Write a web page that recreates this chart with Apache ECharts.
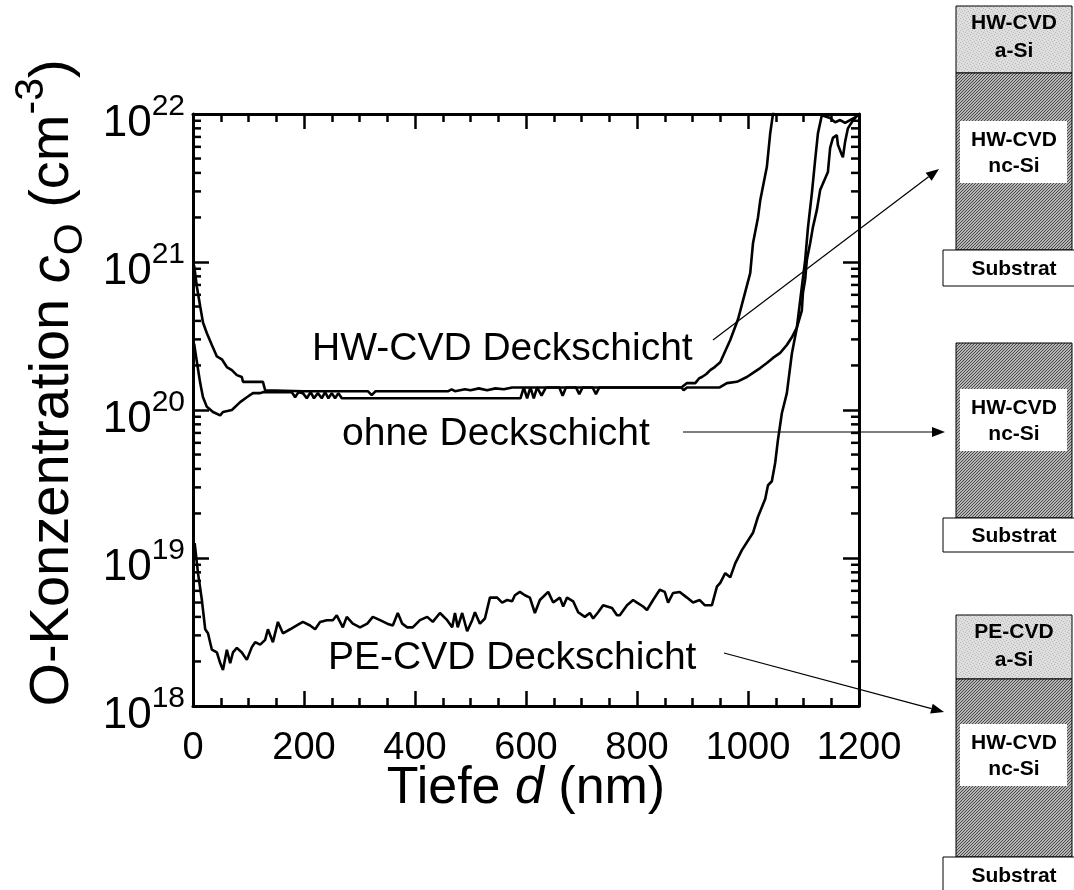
<!DOCTYPE html>
<html>
<head>
<meta charset="utf-8">
<script src="https://cdn.jsdelivr.net/npm/echarts@6/dist/echarts.min.js"></script>
<style>
  html, body { margin: 0; padding: 0; background: #ffffff; }
  #chart { width: 1074px; height: 890px; }
</style>
</head>
<body>
<div id="chart"></div>
<script>
// SIMS depth profiles of oxygen in HW-CVD nc-Si layers: [depth in nm, c_O in cm^-3]
const hwCvdCap = [
  [2,9.5e20],[7,6.8e20],[13,5.0e20],[18,3.9e20],[25,3.3e20],[34,2.75e20],[43,2.3e20],[52,2.2e20],
  [61,1.95e20],[70,1.86e20],[79,1.72e20],[88,1.67e20],[90,1.55e20],[126,1.55e20],[130,1.36e20],
  [200,1.34e20],[315,1.34e20],[322,1.26e20],[329,1.34e20],[460,1.34e20],[466,1.38e20],[472,1.34e20],
  [490,1.38e20],[500,1.36e20],[515,1.4e20],[530,1.36e20],[545,1.4e20],[560,1.38e20],[575,1.42e20],
  [590,1.42e20],[880,1.42e20],[890,1.52e20],[905,1.52e20],[912,1.64e20],[917,1.67e20],[925,1.75e20],
  [932,1.86e20],[940,1.95e20],[950,2.1e20],[968,2.97e20],[982,4.1e20],[991,5.5e20],[1004,8.4e20],
  [1009,1.34e21],[1018,2.0e21],[1022,2.6e21],[1034,4.4e21],[1040,7.4e21],[1045,1.0e22],[1050,1.3e22]
];

const noCap = [
  [2,2.8e20],[8,2.0e20],[13,1.52e20],[18,1.22e20],[25,1.05e20],[36,9.7e19],[49,9.2e19],[54,9.7e19],
  [70,1.0e20],[85,1.13e20],[97,1.22e20],[108,1.3e20],[121,1.3e20],[126,1.32e20],[178,1.32e20],
  [184,1.22e20],[190,1.32e20],[198,1.3e20],[205,1.2e20],[212,1.32e20],[218,1.2e20],[225,1.3e20],
  [232,1.2e20],[238,1.32e20],[244,1.2e20],[250,1.3e20],[256,1.2e20],[262,1.3e20],[268,1.2e20],
  [590,1.2e20],[596,1.42e20],[602,1.2e20],[608,1.42e20],[614,1.2e20],[620,1.42e20],[628,1.25e20],
  [636,1.42e20],[660,1.42e20],[666,1.25e20],[672,1.42e20],[690,1.42e20],[696,1.28e20],[702,1.42e20],
  [720,1.42e20],[726,1.28e20],[732,1.42e20],[880,1.42e20],[884,1.36e20],[890,1.42e20],[949,1.42e20],
  [962,1.52e20],[980,1.55e20],[998,1.67e20],[1009,1.78e20],[1022,1.92e20],[1034,2.08e20],[1045,2.25e20],
  [1058,2.43e20],[1070,2.75e20],[1079,3.1e20],[1088,3.6e20],[1097,4.7e20],[1099,6.2e20],[1103,7.6e20],
  [1106,1.03e21],[1112,1.34e21],[1117,1.72e21],[1124,2.24e21],[1130,3.06e21],[1144,4.06e21],
  [1148,5.9e21],[1153,6.9e21],[1160,7.2e21],[1162,6.2e21],[1169,5.3e21],[1171,5.1e21],[1175,6.5e21],
  [1180,8.0e21],[1187,8.8e21],[1193,9.4e21],[1199,1.0e22]
];

const peCvdCap = [
  [3,1.26e19],[9,7.9e18],[16,5.2e18],[22,3.3e18],[27,3.1e18],[34,2.4e18],[43,2.3e18],[49,1.95e18],
  [54,1.75e18],[61,2.4e18],[67,1.95e18],[72,2.3e18],[79,2.47e18],[88,2.3e18],[97,2.05e18],[106,2.5e18],
  [112,2.7e18],[121,2.6e18],[130,2.8e18],[135,3.3e18],[144,2.7e18],[153,3.7e18],[162,3.1e18],
  [175,3.3e18],[187,3.5e18],[198,3.7e18],[211,3.5e18],[220,3.3e18],[229,3.7e18],[241,3.8e18],
  [252,3.8e18],[259,4.1e18],[270,3.4e18],[277,4.0e18],[288,3.6e18],[301,3.4e18],[314,3.6e18],
  [324,4.0e18],[337,3.8e18],[350,3.6e18],[360,3.5e18],[369,4.25e18],[377,3.6e18],[386,3.4e18],
  [396,3.4e18],[409,3.8e18],[422,4.0e18],[432,3.7e18],[445,4.25e18],[458,3.8e18],[467,3.4e18],
  [472,4.25e18],[477,3.4e18],[485,4.25e18],[494,3.2e18],[503,3.8e18],[508,4.3e18],[517,3.6e18],
  [526,3.9e18],[535,5.4e18],[548,5.4e18],[557,5.0e18],[566,5.2e18],[575,5.1e18],[580,5.6e18],
  [589,5.9e18],[598,5.6e18],[607,5.4e18],[616,4.25e18],[625,5.2e18],[640,5.9e18],[649,5.0e18],
  [661,5.4e18],[667,4.7e18],[674,5.4e18],[685,5.1e18],[694,4.3e18],[706,4.0e18],[715,4.25e18],
  [721,3.9e18],[730,4.3e18],[739,4.8e18],[755,4.6e18],[764,4.1e18],[769,4.1e18],[782,4.8e18],
  [793,5.2e18],[800,5.0e18],[811,4.7e18],[818,4.45e18],[829,5.2e18],[841,6.1e18],[850,5.9e18],
  [856,5.0e18],[865,5.8e18],[877,5.9e18],[890,5.4e18],[901,5.0e18],[913,5.2e18],[922,4.8e18],
  [935,4.8e18],[944,6.4e18],[950,6.8e18],[959,7.9e18],[968,7.4e18],[977,9.2e18],[989,1.13e19],
  [1009,1.48e19],[1018,1.9e19],[1031,2.5e19],[1036,3.1e19],[1043,3.3e19],[1049,4.4e19],[1054,6.3e19],
  [1061,9.5e19],[1070,1.3e20],[1079,2.4e20],[1088,3.6e20],[1097,6.8e20],[1103,1.03e21],[1108,1.7e21],
  [1115,2.9e21],[1121,4.9e21],[1126,7.4e21],[1133,9.8e21],[1148,9.4e21],[1157,8.8e21],[1166,9.1e21],
  [1175,8.7e21],[1184,9.1e21],[1193,9.5e21],[1199,9.9e21]
];

// axis ranges and tick marks
const depthRange = [0, 1200];
const depthStep = 200;
const concRange = [1e18, 1e22];
const decadeExponents = [18, 19, 20, 21];
const minorMantissas = [2, 3, 4, 5, 6, 7, 8, 9];

// in-plot labels for the three profiles
const curveLabels = ['HW-CVD Deckschicht', 'ohne Deckschicht', 'PE-CVD Deckschicht'];

const FONT = '"Liberation Sans", Arial, Helvetica, sans-serif';
const INK = '#000000';

const minorTickValues = [];
decadeExponents.forEach(e => minorMantissas.forEach(m => minorTickValues.push([0, m * Math.pow(10, e)])));

function hatchCanvas() {
  const c = document.createElement('canvas');
  c.width = 3; c.height = 3;
  const g = c.getContext('2d');
  const img = g.createImageData(3, 3);
  for (let y = 0; y < 3; y++) for (let x = 0; x < 3; x++) {
    const dark = (x + y) % 3 === 0;
    const v = dark ? 0x48 : 0xb6;
    const i = (y * 3 + x) * 4;
    img.data[i] = v; img.data[i + 1] = v; img.data[i + 2] = v; img.data[i + 3] = 255;
  }
  g.putImageData(img, 0, 0);
  return c;
}

function stippleCanvas() {
  const c = document.createElement('canvas');
  c.width = 6; c.height = 6;
  const g = c.getContext('2d');
  g.fillStyle = '#dedede';
  g.fillRect(0, 0, 6, 6);
  g.fillStyle = '#b9b9b9';
  [[0, 0], [3, 1], [1, 3], [4, 4], [5, 2], [2, 5]].forEach(p => g.fillRect(p[0], p[1], 1, 1));
  return c;
}

const hatchFill = { image: hatchCanvas(), repeat: 'repeat' };
const stippleFill = { image: stippleCanvas(), repeat: 'repeat' };

function arrow(x1, y1, x2, y2) {
  const dx = x2 - x1, dy = y2 - y1;
  const len = Math.hypot(dx, dy);
  const ux = dx / len, uy = dy / len;
  const hl = 13, hw = 5;
  const bx = x2 - ux * hl, by = y2 - uy * hl;
  return [
    { type: 'line', shape: { x1: x1, y1: y1, x2: bx, y2: by }, style: { stroke: INK, lineWidth: 1.2 } },
    { type: 'polygon', shape: { points: [[x2, y2], [bx - uy * hw, by + ux * hw], [bx + uy * hw, by - ux * hw]] },
      style: { fill: INK } }
  ];
}

function label(text, x, y, size, bold) {
  return {
    type: 'text', x: x, y: y,
    style: { text: text, fontFamily: FONT, fontSize: size, fontWeight: bold ? 'bold' : 'normal',
      fill: INK, align: bold ? 'center' : 'left', verticalAlign: 'middle' }
  };
}

function box(x, y, w, h, fill) {
  return { type: 'rect', shape: { x: x, y: y, width: w, height: h },
    style: { fill: fill, stroke: INK, lineWidth: 1 } };
}

const stackX = 956, stackW = 116, subX = 943, subW = 140, cx = 1014;

function layerStack(capTop, capBottom, capName, hatchBottom, whiteTop, subBottom) {
  const els = [];
  if (capName) {
    els.push(box(stackX, capTop, stackW, capBottom - capTop, stippleFill));
  }
  els.push(box(stackX, capBottom, stackW, hatchBottom - capBottom, hatchFill));
  els.push({ type: 'rect', shape: { x: 960, y: whiteTop, width: 107, height: 62 }, style: { fill: '#ffffff' } });
  els.push(label('HW-CVD', cx, whiteTop + 19, 21, true));
  els.push(label('nc-Si', cx, whiteTop + 45, 21, true));
  els.push(box(subX, hatchBottom, subW, subBottom - hatchBottom, '#ffffff'));
  els.push(label('Substrat', cx, (hatchBottom + subBottom) / 2 + 1, 21, true));
  if (capName) {
    els.push(label(capName, cx, capTop + 17, 21, true));
    els.push(label('a-Si', cx, capTop + 45, 21, true));
  }
  return els;
}

const graphicElements = [].concat(
  // curve labels inside the plot
  label(curveLabels[0], 312, 349, 39, false),
  label(curveLabels[1], 342, 434, 39, false),
  label(curveLabels[2], 328, 658, 39, false),
  // leader arrows to the layer stacks
  arrow(713, 340, 939, 169),
  arrow(683, 432, 945, 432),
  arrow(724, 653, 944, 712),
  // layer stacks: HW-CVD cap, no cap, PE-CVD cap
  layerStack(6, 73, 'HW-CVD', 250, 121, 286),
  layerStack(343, 343, null, 518, 389, 552),
  layerStack(615, 679, 'PE-CVD', 857, 724, 893)
);

const tickLine = { color: INK, width: 2.5 };
const frameLine = { show: true, onZero: false, lineStyle: { color: INK, width: 3 } };

const option = {
  backgroundColor: '#ffffff',
  animation: false,
  grid: { left: 193, top: 114, width: 666, height: 592, containLabel: false },
  xAxis: [
    {
      type: 'value', min: depthRange[0], max: depthRange[1], interval: depthStep,
      position: 'bottom',
      axisLine: frameLine,
      axisTick: { show: true, inside: true, length: 15, lineStyle: tickLine },
      minorTick: { show: true, splitNumber: 4, length: 8, lineStyle: tickLine },
      splitLine: { show: false },
      axisLabel: { color: INK, fontFamily: FONT, fontSize: 38, margin: 24, formatter: v => String(v) },
      name: '{t|Tiefe }{i|d}{t| (nm)}',
      nameLocation: 'middle', nameGap: 57, nameMoveOverlap: false,
      nameTextStyle: {
        rich: {
          t: { fontFamily: FONT, fontSize: 52, color: INK },
          i: { fontFamily: FONT, fontSize: 52, color: INK, fontStyle: 'italic' }
        }
      }
    },
    {
      type: 'value', min: depthRange[0], max: depthRange[1], interval: depthStep,
      position: 'top',
      axisLine: frameLine,
      axisTick: { show: true, inside: true, length: 15, lineStyle: tickLine },
      minorTick: { show: true, splitNumber: 4, length: 8, lineStyle: tickLine },
      splitLine: { show: false },
      axisLabel: { show: false }
    }
  ],
  yAxis: [
    {
      type: 'log', logBase: 10, min: concRange[0], max: concRange[1],
      position: 'left',
      axisLine: frameLine,
      axisTick: { show: true, inside: true, length: 16, lineStyle: tickLine },
      splitLine: { show: false },
      axisLabel: {
        margin: 8,
        padding: [10, 0, 0, 0],
        formatter: v => '{b|10}{s|' + Math.round(Math.log10(v)) + '}',
        rich: {
          b: { fontFamily: FONT, fontSize: 44, color: INK, verticalAlign: 'bottom', padding: [0, 0, 0, 0] },
          s: { fontFamily: FONT, fontSize: 30, color: INK, verticalAlign: 'bottom', padding: [0, 0, 24, 0] }
        }
      },
      name: '{a|O-Konzentration }{i|c}{sub|O}{a| (cm}{sup|-3}{a|)}',
      nameLocation: 'middle', nameGap: 102, nameRotate: 90,
      nameTextStyle: {
        padding: [0, 0, 0, 54],
        rich: {
          a: { fontFamily: FONT, fontSize: 56, color: INK, verticalAlign: 'bottom', padding: [0, 0, 10, 0] },
          i: { fontFamily: FONT, fontSize: 56, color: INK, fontStyle: 'italic', verticalAlign: 'bottom', padding: [0, 0, 10, 0] },
          sub: { fontFamily: FONT, fontSize: 41, color: INK, verticalAlign: 'bottom', padding: [0, 0, 0, 0] },
          sup: { fontFamily: FONT, fontSize: 41, color: INK, verticalAlign: 'bottom', padding: [0, 0, 39, 0] }
        }
      }
    },
    {
      type: 'log', logBase: 10, min: concRange[0], max: concRange[1],
      position: 'right',
      axisLine: frameLine,
      axisTick: { show: true, inside: true, length: 16, lineStyle: tickLine },
      splitLine: { show: false },
      axisLabel: { show: false }
    }
  ],
  series: [
    { name: 'HW-CVD Deckschicht', type: 'line', data: hwCvdCap, showSymbol: false, clip: true,
      lineStyle: { color: INK, width: 2.6 }, z: 4 },
    { name: 'ohne Deckschicht', type: 'line', data: noCap, showSymbol: false, clip: true,
      lineStyle: { color: INK, width: 2.6 }, z: 4 },
    { name: 'PE-CVD Deckschicht', type: 'line', data: peCvdCap, showSymbol: false, clip: true,
      lineStyle: { color: INK, width: 2.6 }, z: 4 },
    {
      // logarithmic minor ticks (2..9 per decade) on the left and right frame
      name: 'minor ticks', type: 'custom', coordinateSystem: 'cartesian2d', silent: true, clip: false,
      data: minorTickValues, z: 5,
      renderItem: (params, api) => {
        const v = api.value(1);
        const l = api.coord([depthRange[0], v]);
        const r = api.coord([depthRange[1], v]);
        return {
          type: 'group',
          children: [
            { type: 'line', shape: { x1: l[0], y1: l[1], x2: l[0] + 8, y2: l[1] }, style: { stroke: INK, lineWidth: 2.5 } },
            { type: 'line', shape: { x1: r[0] - 8, y1: r[1], x2: r[0], y2: r[1] }, style: { stroke: INK, lineWidth: 2.5 } }
          ]
        };
      }
    }
  ],
  graphic: { elements: graphicElements }
};

const chart = echarts.init(document.getElementById('chart'), null, { renderer: 'canvas' });
chart.setOption(option);
</script>
</body>
</html>
